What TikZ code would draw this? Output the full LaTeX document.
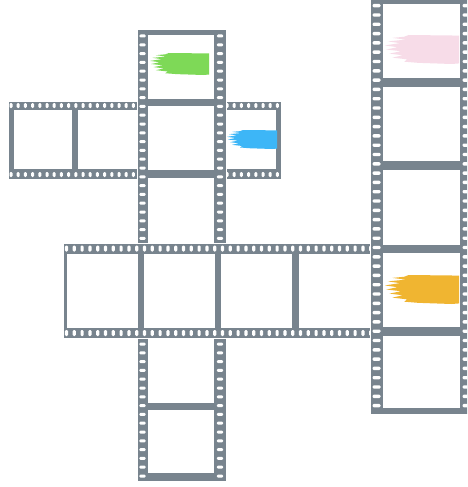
\documentclass[tikz,border=0pt]{standalone}
\usepackage{xcolor}
\usepackage{tikz}

\definecolor{filmgray}{HTML}{78848E}
\definecolor{brushgreen}{HTML}{7ED957}
\definecolor{brushblue}{HTML}{3DB6F7}
\definecolor{brushpink}{HTML}{F7DCE8}
\definecolor{brushorange}{HTML}{F0B531}

\tikzset{
  film/.style={fill=filmgray, draw=white, line width=0.8pt},
  window/.style={fill=white},
  hole/.style={fill=white, rounded corners=1.2pt}
}

% paint stroke: colour, left, top, width, height
\newcommand{\brush}[5]{%
  \fill[#1, shift={(#2,#3)}, xscale=#4, yscale=#5]
    (1,0.02) -- (0.32,0) -- (0.26,0.06) -- (0.1,0.1) -- (0.28,0.16) -- (0.04,0.22)
    -- (0.2,0.28) -- (0,0.36) -- (0.17,0.42) -- (0.02,0.5) -- (0.22,0.56) -- (0.06,0.64)
    -- (0.24,0.7) -- (0.1,0.78) -- (0.3,0.84) -- (0.26,0.92) -- (0.45,0.96)
    -- (0.9,1) -- (1,0.98) -- cycle;}

\begin{document}
\begin{tikzpicture}[x=1pt,y=-1pt]
\clip (0,0) rectangle (467,487);

% upper horizontal strip
\draw[film] (8,101) rectangle (281,179);
\foreach \x in {11,18.2,...,279} {
  \fill[hole] (\x-1.5,103) rectangle ++(3,5);
  \fill[hole] (\x-1.5,172) rectangle ++(3,5);
}
\foreach \a/\b in {14/72,78/137,226/276}
  \fill[window] (\a,110) rectangle (\b,169);
\brush{brushblue}{227}{130}{50}{19}

% left vertical strip
\draw[film] (137,29) rectangle (226,481);
\foreach \y in {36,44.8,...,478} {
  \fill[hole] (139.3,\y-1.5) rectangle ++(6.4,3);
  \fill[hole] (216.8,\y-1.5) rectangle ++(6.4,3);
}
\foreach \a/\b in {35/99,106/170,178/243,338/403,410/473}
  \fill[window] (148,\a) rectangle (214,\b);
\brush{brushgreen}{150}{53}{59}{22}

% lower horizontal strip
\draw[film] (63,243) rectangle (380,338);
\foreach \x in {66.5,74.3,...,378} {
  \fill[hole] (\x-1.6,245.5) rectangle ++(3.2,6);
  \fill[hole] (\x-1.6,330) rectangle ++(3.2,6);
}
\foreach \a in {67,144,221,299}
  \fill[window] (\a,254) rectangle ++(70.5,74);

% right vertical strip
\draw[film] (370,-10) rectangle (473,414);
\foreach \y in {-3.6,5.7,...,410} {
  \fill[hole] (372.5,\y-1.7) rectangle ++(8,3.4);
  \fill[hole] (462.5,\y-1.7) rectangle ++(8,3.4);
}
\foreach \a/\b in {4/78,87/161,170/245,253/327,336/408}
  \fill[window] (383,\a) rectangle (460,\b);
\brush{brushpink}{385}{35}{74}{29}
\brush{brushorange}{385}{275}{74}{29}
\end{tikzpicture}
\end{document}
